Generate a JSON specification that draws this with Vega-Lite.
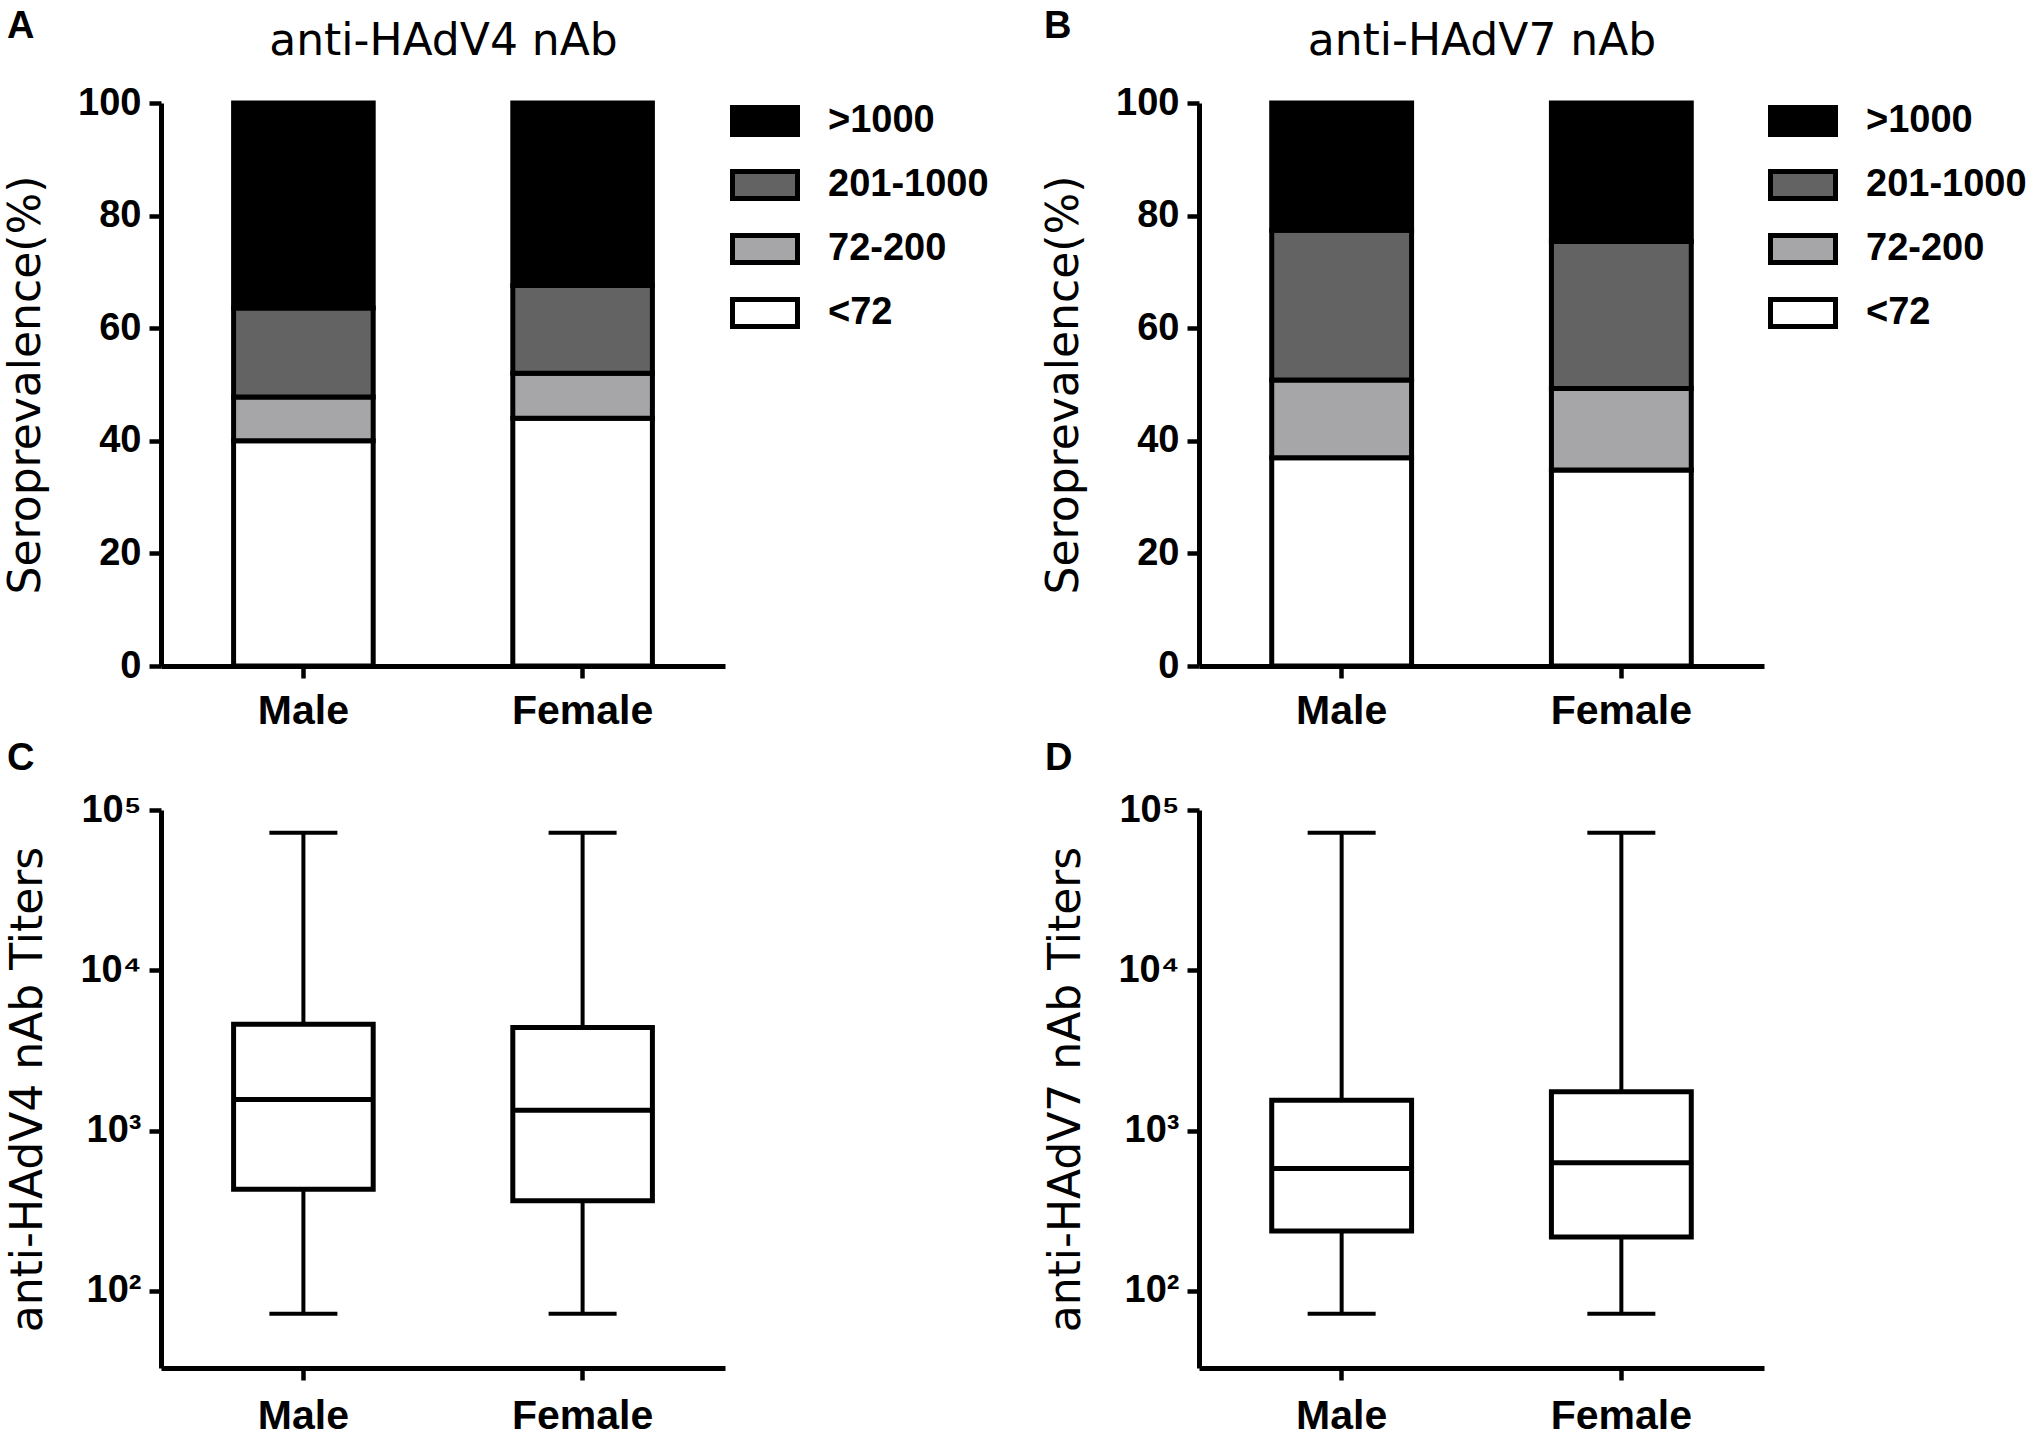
{
  "$schema": "https://vega.github.io/schema/vega-lite/v6.json",
  "padding": {"left": 4, "top": 8, "right": 0, "bottom": 0},
  "background": "white",
  "config": {
    "font": "Liberation Sans",
    "view": {"stroke": null},
    "axis": {
      "domainColor": "black", "domainWidth": 5,
      "tickColor": "black", "tickWidth": 4.5, "tickSize": 12,
      "labelFont": "Liberation Sans", "labelFontSize": 38, "labelFontWeight": "bold", "labelColor": "black",
      "titleFont": "DejaVu Sans", "titleFontSize": 44, "titleFontWeight": "normal", "titleColor": "black",
      "grid": false
    },
    "axisX": {"labelAngle": 0, "labelPadding": 16, "bandPosition": 0.5, "labelFontSize": 41, "title": null},
    "axisY": {"labelPadding": 8, "titlePadding": 29},
    "legend": {
      "title": null, "orient": "none", "legendX": 569, "legendY": -17, "padding": 0,
      "symbolType": "M-1,-0.415H1V0.415H-1Z", "symbolSize": 4225,
      "symbolStrokeColor": "black", "symbolStrokeWidth": 5,
      "labelFont": "Liberation Sans", "labelFontSize": 38, "labelFontWeight": "bold", "labelColor": "black",
      "labelOffset": 28, "labelLimit": 0, "rowPadding": 5
    },
    "title": {"anchor": "start", "frame": "group", "font": "Liberation Sans", "fontSize": 38, "fontWeight": "bold", "color": "black", "baseline": "alphabetic"}
  },
  "datasets": {
    "sero": [
      {"assay": "HAdV4", "sex": "Male", "titer": "<72", "level": 1, "pct": 40.0},
      {"assay": "HAdV4", "sex": "Male", "titer": "72-200", "level": 2, "pct": 7.8},
      {"assay": "HAdV4", "sex": "Male", "titer": "201-1000", "level": 3, "pct": 15.8},
      {"assay": "HAdV4", "sex": "Male", "titer": ">1000", "level": 4, "pct": 36.4},
      {"assay": "HAdV4", "sex": "Female", "titer": "<72", "level": 1, "pct": 44.0},
      {"assay": "HAdV4", "sex": "Female", "titer": "72-200", "level": 2, "pct": 8.0},
      {"assay": "HAdV4", "sex": "Female", "titer": "201-1000", "level": 3, "pct": 15.6},
      {"assay": "HAdV4", "sex": "Female", "titer": ">1000", "level": 4, "pct": 32.4},
      {"assay": "HAdV7", "sex": "Male", "titer": "<72", "level": 1, "pct": 37.0},
      {"assay": "HAdV7", "sex": "Male", "titer": "72-200", "level": 2, "pct": 13.8},
      {"assay": "HAdV7", "sex": "Male", "titer": "201-1000", "level": 3, "pct": 26.6},
      {"assay": "HAdV7", "sex": "Male", "titer": ">1000", "level": 4, "pct": 22.6},
      {"assay": "HAdV7", "sex": "Female", "titer": "<72", "level": 1, "pct": 34.8},
      {"assay": "HAdV7", "sex": "Female", "titer": "72-200", "level": 2, "pct": 14.5},
      {"assay": "HAdV7", "sex": "Female", "titer": "201-1000", "level": 3, "pct": 26.1},
      {"assay": "HAdV7", "sex": "Female", "titer": ">1000", "level": 4, "pct": 24.6}
    ],
    "titers": [
      {"assay": "HAdV4", "sex": "Male", "min": 72, "q1": 430, "median": 1560, "q3": 4600, "max": 72000},
      {"assay": "HAdV4", "sex": "Female", "min": 72, "q1": 365, "median": 1340, "q3": 4400, "max": 72000},
      {"assay": "HAdV7", "sex": "Male", "min": 72, "q1": 236, "median": 580, "q3": 1546, "max": 72000},
      {"assay": "HAdV7", "sex": "Female", "min": 72, "q1": 217, "median": 630, "q3": 1746, "max": 72000}
    ]
  },
  "columns": 2,
  "bounds": "flush",
  "spacing": {"row": 144, "column": 474},
  "resolve": {"scale": {"x": "independent", "y": "independent", "color": "independent"}, "legend": {"color": "independent"}},
  "concat": [
    {
      "width": 564, "height": 563,
      "title": {"text": "A", "offset": -27, "dx": -154},
      "data": {"name": "sero"},
      "transform": [{"filter": "datum.assay === 'HAdV4'"}],
      "resolve": {"axis": {"x": "independent"}},
      "layer": [
        {
          "mark": {"type": "bar", "stroke": "black", "strokeWidth": 5},
          "encoding": {
            "x": {"field": "sex", "type": "nominal", "sort": ["Male", "Female"], "scale": {"paddingInner": 0.5, "paddingOuter": 0.26}, "axis": {"labelPadding": 13}},
            "y": {"field": "pct", "type": "quantitative", "stack": "zero", "title": "Seroprevalence(%)", "scale": {"domain": [0, 100], "nice": false}, "axis": {"values": [0, 20, 40, 60, 80, 100]}},
            "color": {"field": "titer", "type": "nominal", "scale": {"domain": [">1000", "201-1000", "72-200", "<72"], "range": ["#000000", "#636363", "#a6a6a8", "#ffffff"]}},
            "order": {"field": "level", "type": "quantitative", "sort": "ascending"}
          }
        },
        {
          "mark": {"type": "bar", "opacity": 0},
          "encoding": {
            "x": {"field": "sex", "type": "nominal", "sort": ["Male", "Female"],
              "axis": {"orient": "top", "title": "anti-HAdV4 nAb", "labels": false, "ticks": false, "domain": false, "titleFontSize": 44, "titleY": -49, "titleBaseline": "alphabetic"}}
          }
        }
      ]
    },
    {
      "width": 565, "height": 563,
      "title": {"text": "B", "offset": -27, "dx": -155},
      "data": {"name": "sero"},
      "transform": [{"filter": "datum.assay === 'HAdV7'"}],
      "resolve": {"axis": {"x": "independent"}},
      "layer": [
        {
          "mark": {"type": "bar", "stroke": "black", "strokeWidth": 5},
          "encoding": {
            "x": {"field": "sex", "type": "nominal", "sort": ["Male", "Female"], "scale": {"paddingInner": 0.5, "paddingOuter": 0.26}, "axis": {"labelPadding": 13}},
            "y": {"field": "pct", "type": "quantitative", "stack": "zero", "title": "Seroprevalence(%)", "scale": {"domain": [0, 100], "nice": false}, "axis": {"values": [0, 20, 40, 60, 80, 100]}},
            "color": {"field": "titer", "type": "nominal", "scale": {"domain": [">1000", "201-1000", "72-200", "<72"], "range": ["#000000", "#636363", "#a6a6a8", "#ffffff"]}},
            "order": {"field": "level", "type": "quantitative", "sort": "ascending"}
          }
        },
        {
          "mark": {"type": "bar", "opacity": 0},
          "encoding": {
            "x": {"field": "sex", "type": "nominal", "sort": ["Male", "Female"],
              "axis": {"orient": "top", "title": "anti-HAdV7 nAb", "labels": false, "ticks": false, "domain": false, "titleFontSize": 44, "titleY": -49, "titleBaseline": "alphabetic"}}
          }
        }
      ]
    },
    {
      "width": 564, "height": 558,
      "title": {"text": "C", "offset": 13, "dx": -154},
      "data": {"name": "titers"},
      "transform": [{"filter": "datum.assay === 'HAdV4'"}],
      "layer": [
        {
          "mark": {"type": "rule", "stroke": "black", "strokeWidth": 4},
          "encoding": {
            "x": {"field": "sex", "type": "nominal", "sort": ["Male", "Female"], "scale": {"paddingInner": 0.5, "paddingOuter": 0.26}},
            "y": {"field": "min", "type": "quantitative", "title": "anti-HAdV4 nAb Titers", "scale": {"type": "log", "domain": [33, 100000], "nice": false},
              "axis": {"values": [100, 1000, 10000, 100000], "labelExpr": "datum.value == 100 ? '10²' : datum.value == 1000 ? '10³' : datum.value == 10000 ? '10⁴' : '10⁵'"}},
            "y2": {"field": "max"}
          }
        },
        {
          "mark": {"type": "bar", "fill": "white", "stroke": "black", "strokeWidth": 5},
          "encoding": {
            "x": {"field": "sex", "type": "nominal", "sort": ["Male", "Female"]},
            "y": {"field": "q1", "type": "quantitative", "title": "anti-HAdV4 nAb Titers"}, "y2": {"field": "q3"}}
        },
        {
          "mark": {"type": "tick", "color": "black", "opacity": 1, "size": 138, "thickness": 5},
          "encoding": {
            "x": {"field": "sex", "type": "nominal", "sort": ["Male", "Female"]},
            "y": {"field": "median", "type": "quantitative", "title": "anti-HAdV4 nAb Titers"}}
        },
        {
          "mark": {"type": "tick", "color": "black", "opacity": 1, "size": 68, "thickness": 4},
          "encoding": {
            "x": {"field": "sex", "type": "nominal", "sort": ["Male", "Female"]},
            "y": {"field": "min", "type": "quantitative", "title": "anti-HAdV4 nAb Titers"}}
        },
        {
          "mark": {"type": "tick", "color": "black", "opacity": 1, "size": 68, "thickness": 4},
          "encoding": {
            "x": {"field": "sex", "type": "nominal", "sort": ["Male", "Female"]},
            "y": {"field": "max", "type": "quantitative", "title": "anti-HAdV4 nAb Titers"}}
        }
      ]
    },
    {
      "width": 565, "height": 558,
      "title": {"text": "D", "offset": 13, "dx": -154},
      "data": {"name": "titers"},
      "transform": [{"filter": "datum.assay === 'HAdV7'"}],
      "layer": [
        {
          "mark": {"type": "rule", "stroke": "black", "strokeWidth": 4},
          "encoding": {
            "x": {"field": "sex", "type": "nominal", "sort": ["Male", "Female"], "scale": {"paddingInner": 0.5, "paddingOuter": 0.26}},
            "y": {"field": "min", "type": "quantitative", "title": "anti-HAdV7 nAb Titers", "scale": {"type": "log", "domain": [33, 100000], "nice": false},
              "axis": {"values": [100, 1000, 10000, 100000], "labelExpr": "datum.value == 100 ? '10²' : datum.value == 1000 ? '10³' : datum.value == 10000 ? '10⁴' : '10⁵'"}},
            "y2": {"field": "max"}
          }
        },
        {
          "mark": {"type": "bar", "fill": "white", "stroke": "black", "strokeWidth": 5},
          "encoding": {
            "x": {"field": "sex", "type": "nominal", "sort": ["Male", "Female"]},
            "y": {"field": "q1", "type": "quantitative", "title": "anti-HAdV7 nAb Titers"}, "y2": {"field": "q3"}}
        },
        {
          "mark": {"type": "tick", "color": "black", "opacity": 1, "size": 138, "thickness": 5},
          "encoding": {
            "x": {"field": "sex", "type": "nominal", "sort": ["Male", "Female"]},
            "y": {"field": "median", "type": "quantitative", "title": "anti-HAdV7 nAb Titers"}}
        },
        {
          "mark": {"type": "tick", "color": "black", "opacity": 1, "size": 68, "thickness": 4},
          "encoding": {
            "x": {"field": "sex", "type": "nominal", "sort": ["Male", "Female"]},
            "y": {"field": "min", "type": "quantitative", "title": "anti-HAdV7 nAb Titers"}}
        },
        {
          "mark": {"type": "tick", "color": "black", "opacity": 1, "size": 68, "thickness": 4},
          "encoding": {
            "x": {"field": "sex", "type": "nominal", "sort": ["Male", "Female"]},
            "y": {"field": "max", "type": "quantitative", "title": "anti-HAdV7 nAb Titers"}}
        }
      ]
    }
  ]
}
